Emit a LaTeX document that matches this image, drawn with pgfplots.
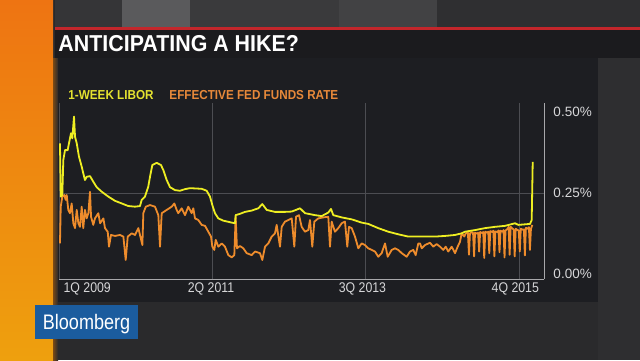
\documentclass[border=0pt]{standalone}
\usepackage{fontspec}
\setmainfont{Liberation Sans}
\usepackage{pgfplots}
\pgfplotsset{compat=1.18}
\definecolor{bgdark}{HTML}{2A2A2C}
\definecolor{panel}{HTML}{1D1E22}
\definecolor{titlebar}{HTML}{1B1B1E}
\definecolor{redline}{HTML}{C3262B}
\definecolor{gridgray}{HTML}{4C4D52}
\definecolor{axisgray}{HTML}{A8A8AB}
\definecolor{ticktext}{HTML}{D6D6D8}
\definecolor{libor}{HTML}{EEEE22}
\definecolor{effr}{HTML}{EE8C2C}
\definecolor{liborlab}{HTML}{E4E230}
\definecolor{effrlab}{HTML}{E8893A}
\definecolor{bbblue}{HTML}{1B5C9E}
\definecolor{orangetop}{HTML}{EE7412}
\definecolor{orangebot}{HTML}{EEA00E}
\definecolor{stripA}{HTML}{353537}
\definecolor{stripB}{HTML}{5A5A5C}
\definecolor{stripC}{HTML}{3A3A3C}
\definecolor{stripD}{HTML}{424244}
\definecolor{stripE}{HTML}{2F2F31}
\definecolor{rightbg}{HTML}{2E2E30}
\definecolor{shadow}{HTML}{7A4A16}
\begin{document}
\begin{tikzpicture}[x=1pt,y=1pt]
% background
\fill[bgdark] (0,0) rectangle (640,360);
% top video strip
\fill[stripA] (55,332) rectangle (122,360);
\fill[stripB] (122,332) rectangle (190,360);
\fill[stripC] (190,332) rectangle (339,360);
\fill[stripD] (339,332) rectangle (437,360);
\fill[stripE] (437,332) rectangle (640,360);
% red line and title bar
\fill[redline] (55,330.5) rectangle (640,332.7);
\fill[titlebar] (55,302) rectangle (640,330.5);
% chart panel
\fill[panel] (55,58) rectangle (598,302);
\fill[rightbg] (598,0) rectangle (640,302);
% orange strip
\shade[top color=orangetop, bottom color=orangebot] (0,0) rectangle (53,360);
\shade[left color=shadow, right color=bgdark] (53,0) rectangle (58,302);
% title
\node[anchor=base west, inner sep=0pt, text=white, font=\fontsize{23}{23}\selectfont\bfseries, xscale=0.93] at (58.3,308.3) {ANTICIPATING A HIKE?};
% legend texts
\node[anchor=base west, inner sep=0pt, text=liborlab, font=\fontsize{13}{13}\selectfont\bfseries, xscale=0.9] at (68.3,260.7) {1-WEEK LIBOR};
\node[anchor=base west, inner sep=0pt, text=effrlab, font=\fontsize{13}{13}\selectfont\bfseries, xscale=0.9] at (169.3,260.7) {EFFECTIVE FED FUNDS RATE};
% Bloomberg logo
\fill[bbblue] (35,20.7) rectangle (138.3,55);
\node[anchor=base west, inner sep=0pt, text=white, font=\fontsize{21}{21}\selectfont, xscale=0.86] at (42.7,30.7) {Bloomberg};

\begin{axis}[
  at={(59.3pt,81pt)}, anchor=south west,
  width=485pt, height=176pt, scale only axis,
  xmin=2009, xmax=2016.122, ymin=-0.0145, ymax=0.527,
  axis x line*=bottom, axis y line*=right,
  axis line style={-, draw=axisgray, line width=1pt},
  axis background/.style={fill=panel},
  major tick length=0pt,
  xtick={2009.41,2011.228,2013.452,2015.696},
  xticklabels={1Q 2009,2Q 2011,3Q 2013,4Q 2015},
  ytick={0,0.25,0.5},
  yticklabels={0.00\%,0.25\%,0.50\%},
  xticklabel style={font=\fontsize{14}{14}\selectfont, text=ticktext, anchor=north, inner sep=0pt, yshift=-3.5pt, xscale=0.88},
  yticklabel style={font=\fontsize{13.5}{13.5}\selectfont, text=ticktext, anchor=west, inner sep=0pt, xshift=9pt},
  extra x ticks={2009,2011.25,2013.5,2015.75},
  extra x tick labels={},
  extra x tick style={grid=major},
  extra y ticks={0.25},
  extra y tick labels={},
  extra y tick style={grid=major},
  major grid style={draw=gridgray, line width=0.8pt},
  no markers,
  clip=false,
]
% Effective Fed Funds Rate
\addplot[color=effr, line width=1.8pt, line join=round] table {
2009.010 0.095
2009.021 0.208
2009.044 0.239
2009.074 0.244
2009.094 0.229
2009.109 0.244
2009.132 0.198
2009.157 0.188
2009.182 0.218
2009.206 0.157
2009.231 0.142
2009.256 0.198
2009.280 0.157
2009.304 0.146
2009.329 0.208
2009.352 0.142
2009.377 0.198
2009.402 0.172
2009.427 0.188
2009.451 0.254
2009.466 0.177
2009.499 0.152
2009.524 0.172
2009.573 0.188
2009.599 0.157
2009.647 0.172
2009.671 0.142
2009.711 0.131
2009.730 0.085
2009.759 0.121
2009.818 0.118
2009.892 0.121
2009.941 0.116
2009.975 0.044
2010.005 0.116
2010.064 0.126
2010.112 0.121
2010.161 0.142
2010.220 0.090
2010.234 0.188
2010.270 0.208
2010.332 0.213
2010.405 0.208
2010.454 0.182
2010.479 0.085
2010.504 0.188
2010.577 0.198
2010.651 0.208
2010.689 0.218
2010.724 0.198
2010.747 0.188
2010.797 0.203
2010.846 0.182
2010.894 0.208
2010.944 0.188
2010.968 0.203
2010.993 0.172
2011.041 0.167
2011.091 0.152
2011.140 0.149
2011.188 0.131
2011.228 0.116
2011.247 0.085
2011.276 0.075
2011.297 0.106
2011.335 0.085
2011.385 0.095
2011.433 0.085
2011.482 0.059
2011.532 0.052
2011.570 0.059
2011.590 0.177
2011.609 0.080
2011.653 0.087
2011.702 0.080
2011.752 0.065
2011.825 0.059
2011.874 0.070
2011.947 0.065
2011.981 0.044
2012.021 0.085
2012.069 0.095
2012.119 0.116
2012.167 0.126
2012.192 0.152
2012.241 0.085
2012.266 0.146
2012.314 0.162
2012.363 0.167
2012.413 0.172
2012.451 0.085
2012.476 0.177
2012.520 0.182
2012.559 0.146
2012.608 0.131
2012.656 0.136
2012.681 0.167
2012.715 0.085
2012.745 0.162
2012.803 0.172
2012.877 0.175
2012.950 0.177
2012.975 0.085
2013.000 0.162
2013.048 0.131
2013.097 0.142
2013.147 0.157
2013.195 0.162
2013.229 0.085
2013.254 0.146
2013.294 0.142
2013.342 0.116
2013.391 0.080
2013.440 0.095
2013.489 0.090
2013.537 0.080
2013.587 0.075
2013.636 0.070
2013.684 0.054
2013.734 0.065
2013.783 0.095
2013.822 0.054
2013.881 0.075
2013.930 0.080
2013.978 0.075
2014.028 0.065
2014.101 0.054
2014.150 0.070
2014.198 0.075
2014.233 0.059
2014.272 0.095
2014.297 0.095
2014.322 0.080
2014.370 0.090
2014.443 0.097
2014.492 0.085
2014.541 0.093
2014.590 0.085
2014.639 0.075
2014.674 0.085
2014.712 0.070
2014.762 0.085
2014.811 0.065
2014.850 0.085
2014.884 0.100
2014.909 0.126
2014.947 0.116
2014.968 0.126
2015.000 0.128
2015.016 0.060
2015.030 0.126
2015.060 0.130
2015.076 0.127
2015.091 0.055
2015.105 0.128
2015.135 0.125
2015.150 0.128
2015.165 0.070
2015.180 0.130
2015.210 0.127
2015.225 0.130
2015.240 0.050
2015.255 0.131
2015.285 0.128
2015.299 0.131
2015.314 0.065
2015.329 0.133
2015.360 0.130
2015.374 0.134
2015.389 0.055
2015.404 0.132
2015.435 0.130
2015.449 0.135
2015.464 0.068
2015.479 0.134
2015.509 0.131
2015.523 0.136
2015.538 0.052
2015.553 0.135
2015.583 0.140
2015.598 0.146
2015.613 0.060
2015.628 0.146
2015.658 0.140
2015.672 0.138
2015.687 0.055
2015.702 0.140
2015.732 0.136
2015.747 0.135
2015.762 0.070
2015.777 0.140
2015.807 0.137
2015.822 0.138
2015.837 0.058
2015.852 0.143
2015.882 0.140
2015.896 0.145
2015.911 0.075
2015.926 0.140
2015.946 0.152
};
% 1-week LIBOR
\addplot[color=libor, line width=1.8pt, line join=round] table {
2009.010 0.403
2009.021 0.239
2009.044 0.244
2009.059 0.352
2009.084 0.382
2009.123 0.382
2009.142 0.403
2009.172 0.434
2009.191 0.418
2009.216 0.485
2009.231 0.423
2009.256 0.403
2009.289 0.362
2009.329 0.331
2009.352 0.311
2009.377 0.290
2009.402 0.300
2009.451 0.302
2009.499 0.285
2009.549 0.268
2009.623 0.254
2009.720 0.239
2009.818 0.226
2009.916 0.218
2010.013 0.210
2010.112 0.208
2010.185 0.210
2010.210 0.229
2010.258 0.239
2010.307 0.270
2010.332 0.300
2010.366 0.336
2010.430 0.343
2010.493 0.336
2010.527 0.321
2010.577 0.290
2010.626 0.268
2010.699 0.259
2010.772 0.257
2010.846 0.262
2010.919 0.265
2011.091 0.263
2011.164 0.257
2011.213 0.239
2011.247 0.213
2011.286 0.188
2011.335 0.172
2011.408 0.165
2011.532 0.159
2011.580 0.157
2011.590 0.182
2011.653 0.186
2011.727 0.192
2011.825 0.196
2011.922 0.203
2011.981 0.216
2012.046 0.198
2012.167 0.192
2012.314 0.192
2012.413 0.193
2012.535 0.203
2012.559 0.198
2012.608 0.188
2012.755 0.182
2012.853 0.179
2012.950 0.190
2012.990 0.201
2013.023 0.182
2013.147 0.175
2013.294 0.169
2013.440 0.159
2013.537 0.155
2013.684 0.142
2013.831 0.131
2013.978 0.123
2014.125 0.116
2014.297 0.116
2014.370 0.116
2014.517 0.116
2014.664 0.118
2014.811 0.121
2014.909 0.126
2014.957 0.131
2015.104 0.136
2015.251 0.142
2015.398 0.146
2015.545 0.149
2015.692 0.157
2015.740 0.152
2015.912 0.155
2015.937 0.167
2015.952 0.346
};
\end{axis}
\end{tikzpicture}
\end{document}
